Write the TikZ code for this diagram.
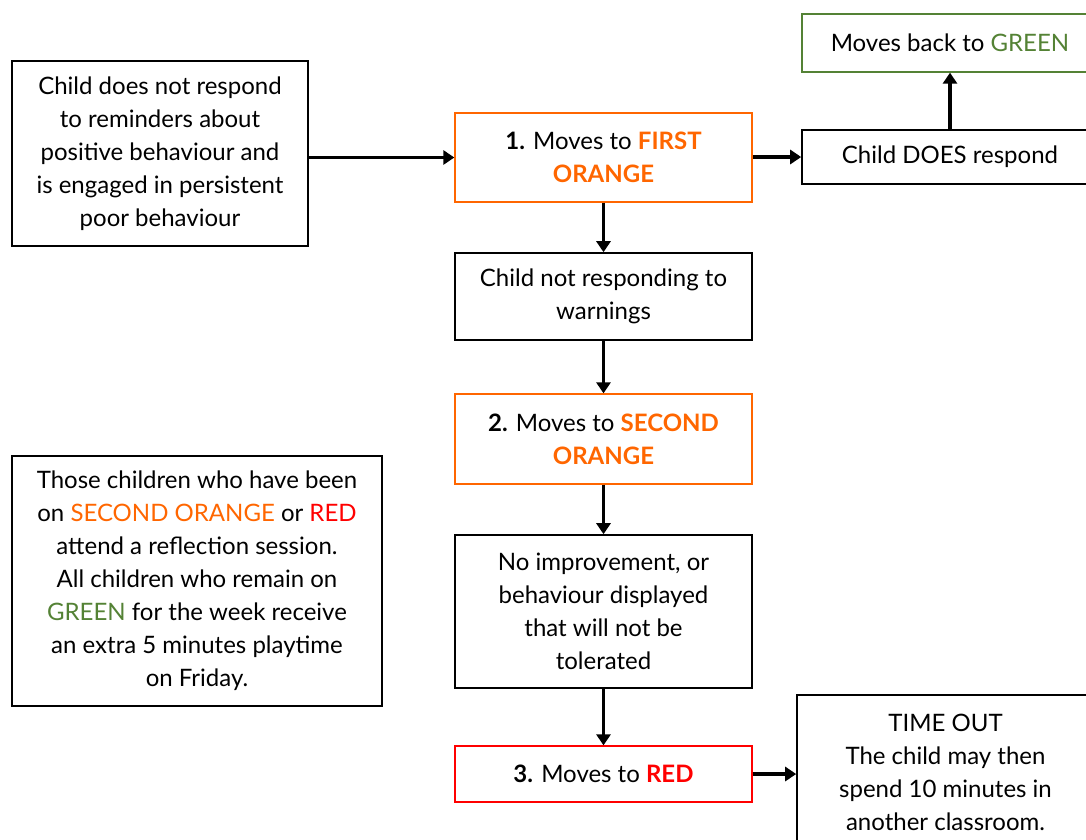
\documentclass[tikz,border=0pt]{standalone}
\usepackage{fontspec}
\setmainfont{Lato}
\usetikzlibrary{arrows.meta}
\definecolor{orng}{RGB}{255,102,0}
\definecolor{rd}{RGB}{255,0,0}
\definecolor{grn}{RGB}{84,130,53}
\tikzset{
  box/.style={draw=black, line width=1.6pt, rectangle, align=center, inner sep=0pt,
    font=\fontsize{24}{33}\selectfont},
  obox/.style={box, draw=orng, line width=1.3pt},
  rbox/.style={box, draw=rd, line width=1.3pt},
  gbox/.style={box, draw=grn, line width=1.3pt},
  arr/.style={line width=3.4pt, -{Triangle[length=11pt,width=14pt]}}
}
\begin{document}
\begin{tikzpicture}[x=1pt,y=-1pt]
\useasboundingbox (0,0) rectangle (1086,839);
\clip (0,0) rectangle (1086,839);
\node[box, minimum width=296pt, minimum height=185pt] (A) at (160,153.5)
  {Child does not respond\\to reminders about\\positive behaviour and\\is engaged in persistent\\poor behaviour};
\node[obox, minimum width=297pt, minimum height=89pt] (one) at (603.5,157.5)
  {\textbf{1.} Moves to \textcolor{orng}{\textbf{FIRST}}\\\textcolor{orng}{\textbf{ORANGE}}};
\node[box, minimum width=296pt, minimum height=54pt] (does) at (950,157)
  {Child DOES respond};
\node[gbox, minimum width=296pt, minimum height=58pt] (green) at (950,43)
  {Moves back to \textcolor{grn}{GREEN}};
\node[box, minimum width=297pt, minimum height=87pt] (warn) at (603.5,296.5)
  {Child not responding to\\warnings};
\node[obox, minimum width=297pt, minimum height=90pt] (two) at (603.5,439)
  {\textbf{2.} Moves to \textcolor{orng}{\textbf{SECOND}}\\\textcolor{orng}{\textbf{ORANGE}}};
\node[box, minimum width=297pt, minimum height=153pt] (noimp) at (603.5,611.5)
  {No improvement, or\\behaviour displayed\\that will not be\\tolerated};
\node[rbox, minimum width=297pt, minimum height=56pt] (three) at (603.5,774)
  {\textbf{3.} Moves to \textcolor{rd}{\textbf{RED}}};
\node[box, minimum width=297pt, minimum height=154pt] (time) at (945.5,772)
  {TIME OUT\\The child may then\\spend 10 minutes in\\another classroom.};
\node[box, minimum width=370pt, minimum height=250pt] (B) at (197,581)
  {Those children who have been\\on \textcolor{orng}{SECOND ORANGE} or \textcolor{rd}{RED}\\attend a reflection session.\\All children who remain on\\\textcolor{grn}{GREEN} for the week receive\\an extra 5 minutes playtime\\on Friday.};
\draw[arr] (A.east |- one.west) -- (one.west);
\draw[arr] (one.east |- does.west) -- (does.west);
\draw[arr] (does.north) -- (green.south);
\draw[arr] (one.south) -- (warn.north);
\draw[arr] (warn.south) -- (two.north);
\draw[arr] (two.south) -- (noimp.north);
\draw[arr] (noimp.south) -- (three.north);
\draw[arr] (three.east) -- (three.east -| time.west);
\end{tikzpicture}
\end{document}
